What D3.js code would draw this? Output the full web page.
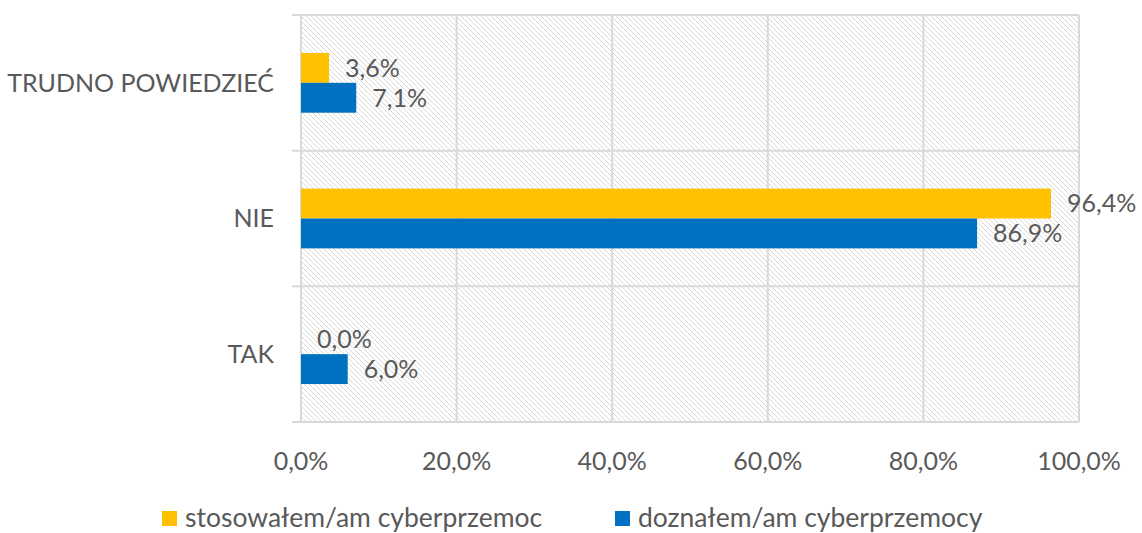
<!DOCTYPE html>
<html lang="pl">
<head>
<meta charset="UTF-8">
<title>Cyberprzemoc</title>
<style>
    body { margin: 0; background: #fff; }
    svg text { font-family: Lato, "Open Sans", sans-serif; fill: #595959; }
</style>
</head>
<body>
<svg id="chart"></svg>
<script src="https://cdnjs.cloudflare.com/ajax/libs/d3/7.9.0/d3.min.js"></script>
<script>
    // data
    const categories = ["TRUDNO POWIEDZIEĆ", "NIE", "TAK"];
    const seriesNames = ["stosowałem/am cyberprzemoc", "doznałem/am cyberprzemocy"];
    const seriesColors = ["#FFC000", "#0070C0"];
    const stosowalem = [3.6, 96.4, 0.0];
    const doznalem = [7.1, 86.9, 6.0];
    const xTicks = [0, 20, 40, 60, 80, 100];

    const w = 1142, h = 533;
    const plotL = 301, plotR = 1079, plotT = 15, plotB = 422;
    const fmt = v => d3.format(".1f")(v).replace(".", ",") + "%";

    const svg = d3.select("#chart").attr("width", w).attr("height", h);

    // hatch pattern of the plot area
    const defs = svg.append("defs");
    const pat = defs.append("pattern")
        .attr("id", "hatch")
        .attr("patternUnits", "userSpaceOnUse")
        .attr("width", 5).attr("height", 5);
    pat.append("rect").attr("width", 5).attr("height", 5).attr("fill", "#fff");
    pat.append("path")
        .attr("d", "M-1,-1 L6,6 M-1,4 L1,6 M4,-1 L6,1")
        .attr("stroke", "#d9d9d9").attr("stroke-width", 1);

    const x = d3.scaleLinear().domain([0, 100]).range([plotL, plotR]);
    const y = d3.scaleBand().domain(categories).range([plotT, plotB]);
    const ys = d3.scaleBand().domain(seriesNames).range([0, y.bandwidth()])
        .paddingInner(0).paddingOuter(1.27);

    svg.append("rect")
        .attr("x", plotL).attr("y", plotT)
        .attr("width", plotR - plotL).attr("height", plotB - plotT)
        .attr("fill", "url(#hatch)");

    // vertical gridlines
    svg.append("g").selectAll("line")
        .data(xTicks.slice(1))
        .join("line")
        .attr("x1", d => x(d)).attr("x2", d => x(d))
        .attr("y1", plotT).attr("y2", plotB)
        .attr("stroke", "#d9d9d9").attr("stroke-width", 2);

    // category separators (with tick marks on the left)
    const seps = categories.map(c => y(c)).concat([plotB]);
    svg.append("g").selectAll("line")
        .data(seps)
        .join("line")
        .attr("x1", plotL - 9).attr("x2", plotR)
        .attr("y1", d => d).attr("y2", d => d)
        .attr("stroke", "#d9d9d9").attr("stroke-width", 2);

    svg.append("line")
        .attr("x1", plotL).attr("x2", plotL)
        .attr("y1", plotT).attr("y2", plotB)
        .attr("stroke", "#d9d9d9").attr("stroke-width", 2);

    // bars
    const series = [stosowalem, doznalem];
    series.forEach((vals, si) => {
        const g = svg.append("g");
        g.selectAll("rect")
            .data(categories.map((c, i) => ({ c, v: vals[i] })))
            .join("rect")
            .attr("x", x(0))
            .attr("y", d => y(d.c) + ys(seriesNames[si]))
            .attr("width", d => x(d.v) - x(0))
            .attr("height", ys.bandwidth())
            .attr("fill", seriesColors[si]);
        g.selectAll("text")
            .data(categories.map((c, i) => ({ c, v: vals[i] })))
            .join("text")
            .attr("x", d => x(d.v) + 16)
            .attr("y", d => y(d.c) + ys(seriesNames[si]) + ys.bandwidth() / 2)
            .attr("dy", "0.35em")
            .attr("font-size", 25)
            .text(d => fmt(d.v));
    });

    // category labels
    svg.append("g").selectAll("text")
        .data(categories)
        .join("text")
        .attr("x", plotL - 27)
        .attr("y", d => y(d) + y.bandwidth() / 2)
        .attr("dy", "0.35em")
        .attr("text-anchor", "end")
        .attr("font-size", 25)
        .text(d => d);

    // x tick labels
    svg.append("g").selectAll("text")
        .data(xTicks)
        .join("text")
        .attr("x", d => x(d))
        .attr("y", 461)
        .attr("dy", "0.35em")
        .attr("text-anchor", "middle")
        .attr("font-size", 25)
        .text(d => fmt(d));

    // legend
    const legendX = [162, 615];
    const lg = svg.append("g").selectAll("g")
        .data(seriesNames)
        .join("g")
        .attr("transform", (d, i) => `translate(${legendX[i]},511)`);
    lg.append("rect").attr("width", 15).attr("height", 15)
        .attr("fill", (d, i) => seriesColors[i]);
    lg.append("text").attr("x", 23).attr("y", 7.5).attr("dy", "0.32em")
        .attr("font-size", 26.5)
        .text(d => d);
</script>
</body>
</html>
